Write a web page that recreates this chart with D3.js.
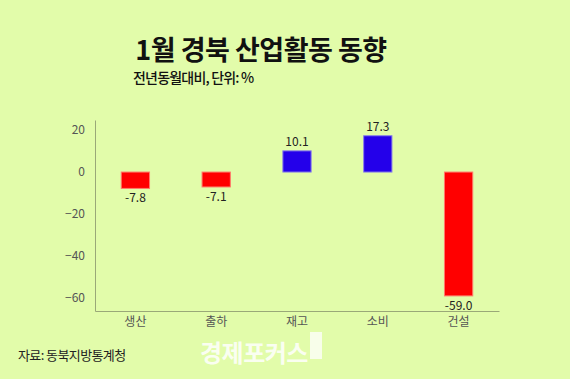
<!DOCTYPE html>
<html>
<head>
<meta charset="utf-8">
<script src="https://cdnjs.cloudflare.com/ajax/libs/d3/7.8.5/d3.min.js"></script>
<style>
	html, body { margin: 0; padding: 0; background: #e2fcaa; }
	svg { display: block; }
</style>
</head>
<body>
<svg id="chart" width="570" height="379"></svg>
<script>
// categories and values (전년동월대비, %)
var categories = ['생산', '출하', '재고', '소비', '건설'];
var values = [-7.8, -7.1, 10.1, 17.3, -59.0];
var yTicks = [20, 0, -20, -40, -60];

var svg = d3.select('#chart');
var W = 570, H = 379;
var font = '"Noto Sans CJK KR", "Noto Sans", sans-serif';

svg.append('rect').attr('width', W).attr('height', H).attr('fill', '#e2fcaa');

//title / subtitle
svg.append('text')
	.attr('x', 261).attr('y', 60)
	.attr('text-anchor', 'middle')
	.style('font-family', font)
	.style('font-weight', 700)
	.style('font-size', '27px')
	.style('letter-spacing', '-0.5px')
	.attr('fill', '#111')
	.text('1월 경북 산업활동 동향');

svg.append('text')
	.attr('x', 133).attr('y', 83)
	.style('font-family', font)
	.style('font-weight', 500)
	.style('font-size', '14px')
	.style('letter-spacing', '-0.8px')
	.attr('fill', '#111')
	.text('전년동월대비, 단위: %');

//scales
var x = d3.scaleBand()
	.domain(categories)
	.range([95, 499])
	.paddingInner(0.65)
	.paddingOuter(0.325);

var y = d3.scaleLinear()
	.domain([-66.2, 24.8])
	.range([311, 120]);

var g = svg.append('g');

//bars
g.selectAll('rect.bar')
	.data(values)
	.enter().append('rect')
	.attr('class', 'bar')
	.attr('x', (d, i) => x(categories[i]))
	.attr('width', x.bandwidth())
	.attr('y', d => y(Math.max(0, d)))
	.attr('height', d => Math.abs(y(d) - y(0)))
	.attr('fill', d => d < 0 ? '#ff0000' : '#2400ea')
	.attr('stroke', d => d < 0 ? '#ff7a6a' : '#8a80e8')
	.attr('stroke-width', 1);

//value labels
g.selectAll('text.val')
	.data(values)
	.enter().append('text')
	.attr('class', 'val')
	.attr('x', (d, i) => x(categories[i]) + x.bandwidth() / 2)
	.attr('y', d => d < 0 ? y(d) + 14 : y(d) - 5)
	.attr('text-anchor', 'middle')
	.style('font-family', font)
	.style('font-size', '12px')
	.attr('fill', '#222')
	.text(d => d === -59 ? '-59.0' : String(d));

//y axis
var yAxis = d3.axisLeft(y).tickValues(yTicks).tickSize(0).tickPadding(10);
var gy = svg.append('g').attr('transform', 'translate(95,0)').call(yAxis);
gy.select('.domain').attr('stroke', '#9aa878');
gy.selectAll('text')
	.style('font-family', font)
	.style('font-size', '12px')
	.attr('fill', '#555');

//x axis
var xAxis = d3.axisBottom(x).tickSize(0).tickPadding(6);
var gx = svg.append('g').attr('transform', 'translate(0,311)').call(xAxis);
gx.select('.domain').attr('stroke', '#9aa878');
gx.selectAll('text')
	.style('font-family', font)
	.style('font-size', '12px')
	.attr('fill', '#555');

//source
svg.append('text')
	.attr('x', 18).attr('y', 360)
	.style('font-family', font)
	.style('font-size', '13px')
	.style('letter-spacing', '-0.6px')
	.attr('fill', '#222')
	.text('자료: 동북지방통계청');

//watermark
svg.append('text')
	.attr('x', 200).attr('y', 362)
	.style('font-family', font)
	.style('font-weight', 700)
	.style('font-size', '24px')
	.style('letter-spacing', '-0.5px')
	.attr('fill', '#ffffff')
	.attr('fill-opacity', 0.85)
	.text('경제포커스');
svg.append('rect')
	.attr('x', 310).attr('y', 332).attr('width', 12).attr('height', 27)
	.attr('fill', '#ffffff').attr('fill-opacity', 0.75);
</script>
</body>
</html>
